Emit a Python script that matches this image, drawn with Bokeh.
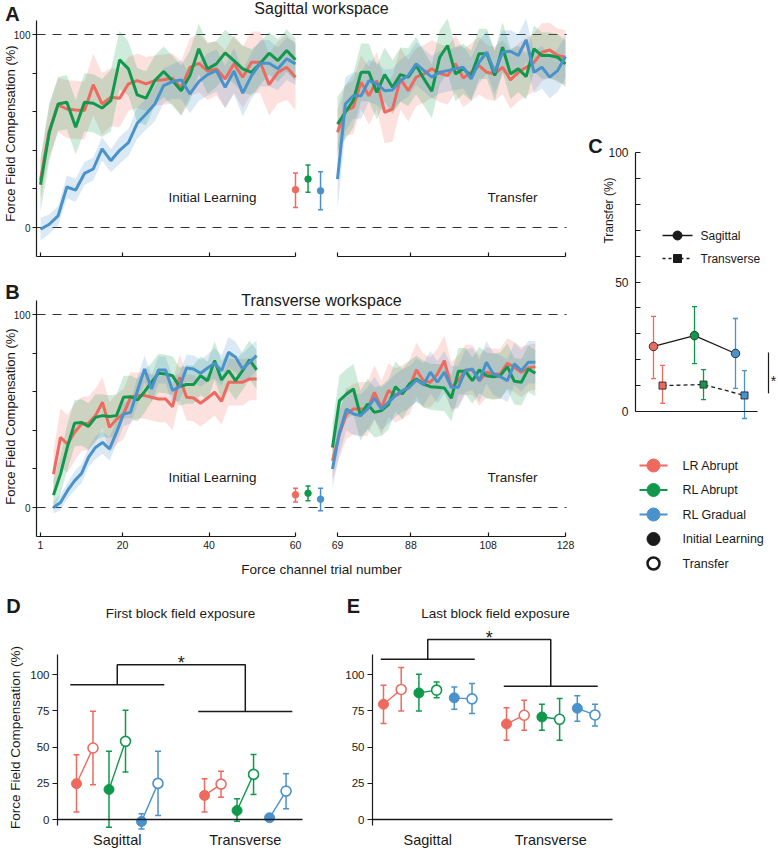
import numpy as np
from bokeh.plotting import figure
from bokeh.models import Range1d, LinearAxis, FixedTicker, Label
from bokeh.layouts import column, row
from bokeh.core.properties import value
from bokeh.embed import file_html
from bokeh.resources import INLINE

FONT = "Liberation Sans"
RED, GREEN, BLUE = "#EE6A5F", "#10994D", "#4A92CB"
INK = "#1a1a1a"

group_names = ["LR Abrupt", "RL Abrupt", "RL Gradual"]
group_colors = [RED, GREEN, BLUE]
phase_names = ["Initial Learning", "Transfer"]
workspace_names = ["Sagittal", "Transverse"]
ffc_label = "Force Field Compensation (%)"

# ---------------- Panel A : sagittal workspace ----------------
sag_init_trials = [float(t) for t in np.linspace(1, 60, 30)]
sag_tr_trials = [float(t) for t in np.linspace(69, 128, 30)]

sag_init_lr = [24.6, 50.2, 63.5, 61.4, 60.9, 60.6, 74.0, 64.0, 67.5, 67.0, 74.4, 76.1, 74.4, 76.1, 76.6,
               77.3, 72.3, 83.0, 85.1, 81.0, 82.2, 77.0, 84.8, 77.9, 85.6, 85.6, 74.0, 80.4, 83.0, 77.9]
sag_init_rla = [22.1, 49.3, 64.0, 64.9, 51.9, 64.9, 64.4, 61.9, 65.7, 86.9, 82.2, 68.7, 67.0, 76.1, 80.8,
                76.1, 70.9, 78.7, 92.6, 82.2, 84.8, 90.5, 86.5, 82.2, 80.4, 85.1, 90.3, 86.5, 91.7, 86.9]
sag_init_rlg = [-0.9, 1.7, 6.0, 21.0, 19.4, 28.0, 30.3, 40.7, 34.6, 40.0, 44.0, 54.0, 58.8, 64.0, 73.5,
                75.6, 76.5, 69.2, 75.6, 79.2, 81.3, 72.7, 81.0, 69.6, 78.7, 85.1, 85.1, 82.2, 87.4, 84.8]
sag_init_lr_sd = [10, 13, 14, 15, 15, 15, 16, 16, 15, 15, 14, 14, 14, 13, 13,
                  13, 14, 15, 15, 15, 14, 15, 15, 16, 16, 16, 16, 16, 17, 17]
sag_init_rla_sd = [14, 15, 14, 14, 14, 15, 15, 15, 16, 15, 14, 14, 14, 13, 13,
                   13, 13, 13, 13, 13, 12, 12, 12, 12, 12, 11, 11, 11, 11, 11]
sag_init_rlg_sd = [6, 5, 5, 6, 6, 6, 6, 6, 6, 7, 7, 8, 8, 9, 9,
                   9, 10, 10, 10, 11, 11, 11, 12, 12, 12, 12, 12, 11, 11, 11]

sag_tr_lr = [49.3, 60.6, 62.3, 75.3, 68.3, 76.1, 59.7, 61.4, 77.0, 70.9, 77.9, 79.6, 82.2, 79.9, 78.7,
             84.8, 77.5, 80.4, 83.9, 80.4, 79.6, 83.0, 76.5, 80.4, 83.0, 85.6, 90.8, 92.0, 89.1, 88.2]
sag_tr_rla = [53.6, 59.7, 65.7, 80.4, 80.4, 70.0, 79.2, 72.7, 79.2, 77.9, 83.9, 77.0, 70.6, 88.2, 94.3,
              79.6, 82.2, 78.7, 90.0, 90.0, 78.7, 93.4, 79.6, 82.2, 78.2, 92.6, 89.1, 89.1, 88.2, 84.8]
sag_tr_rlg = [25.1, 64.0, 68.3, 68.3, 76.1, 74.4, 70.9, 71.3, 76.1, 78.7, 84.8, 81.3, 77.9, 80.4, 81.3,
              82.2, 83.0, 77.0, 85.6, 90.8, 80.4, 90.8, 91.3, 89.1, 97.2, 80.4, 83.0, 77.9, 81.3, 88.6]
sag_tr_lr_sd = [12, 13, 14, 14, 15, 15, 16, 17, 16, 16, 15, 15, 15, 15, 15,
                15, 15, 15, 15, 14, 14, 14, 15, 15, 15, 15, 15, 14, 14, 14]
sag_tr_rla_sd = [14, 14, 14, 15, 15, 14, 14, 14, 14, 15, 15, 14, 14, 14, 14,
                 14, 13, 13, 13, 13, 13, 13, 13, 12, 12, 12, 12, 12, 12, 12]
sag_tr_rlg_sd = [16, 14, 12, 12, 11, 11, 11, 11, 11, 11, 11, 11, 11, 11, 11,
                 11, 11, 11, 11, 11, 11, 11, 11, 11, 11, 11, 11, 11, 11, 11]

sag_gap_mean = [19.6, 25.1, 19.0]
sag_gap_lo = [10.4, 18.2, 9.2]
sag_gap_hi = [28.2, 32.4, 28.9]

# ---------------- Panel B : transverse workspace ----------------
trv_init_trials = [float(t) for t in np.linspace(4, 51, 30)]
trv_tr_trials = [float(t) for t in np.linspace(67.7, 120.2, 30)]

trv_init_lr = [17.3, 36.3, 32.9, 38.9, 43.3, 43.6, 47.6, 54.5, 41.5, 45.8, 48.4, 57.1, 58.0, 58.0, 57.1,
               56.2, 56.2, 52.2, 67.5, 57.1, 56.7, 54.0, 56.7, 59.7, 55.0, 64.9, 64.9, 64.9, 66.6, 66.6]
trv_init_rla = [6.4, 17.3, 31.5, 43.6, 44.1, 42.0, 46.7, 47.6, 47.1, 47.6, 57.1, 57.4, 55.7, 60.0, 64.9,
                69.6, 69.2, 68.3, 62.6, 63.7, 63.7, 68.3, 65.7, 76.1, 66.1, 70.9, 65.7, 70.9, 76.5, 71.3]
trv_init_rlg = [0.0, 2.6, 8.7, 13.8, 17.6, 26.0, 31.1, 33.7, 30.3, 38.9, 48.4, 49.3, 60.6, 71.8, 61.4,
                71.3, 71.3, 60.6, 62.6, 72.3, 71.8, 69.6, 72.3, 74.7, 70.9, 80.4, 77.9, 71.8, 75.3, 78.7]
trv_init_lr_sd = [12, 15, 15, 15, 14, 14, 14, 13, 13, 13, 13, 13, 12, 12, 12,
                  12, 12, 12, 12, 12, 12, 12, 12, 12, 12, 12, 12, 12, 11, 11]
trv_init_rla_sd = [8, 10, 12, 12, 12, 12, 12, 11, 11, 11, 11, 11, 11, 11, 10,
                   10, 10, 10, 10, 10, 10, 10, 10, 10, 10, 10, 10, 10, 10, 10]
trv_init_rlg_sd = [3, 4, 4, 5, 5, 5, 6, 6, 6, 6, 6, 6, 7, 7, 7,
                   7, 7, 7, 7, 7, 7, 7, 7, 8, 8, 8, 8, 8, 8, 8]

trv_tr_lr = [24.2, 38.1, 48.4, 51.0, 51.0, 51.0, 59.7, 51.6, 60.6, 58.0, 59.7, 62.3, 71.3, 65.7, 64.9,
             69.2, 76.1, 62.3, 65.7, 71.3, 71.3, 65.7, 70.1, 69.2, 69.2, 74.7, 72.7, 70.1, 72.3, 73.0]
trv_tr_rla = [31.1, 55.4, 58.8, 61.4, 47.6, 53.6, 49.3, 50.2, 53.3, 62.6, 58.8, 64.0, 66.6, 64.0, 62.6,
              62.3, 61.9, 56.7, 70.6, 70.6, 65.7, 71.3, 68.3, 67.8, 68.3, 73.0, 65.4, 64.9, 71.8, 69.6]
trv_tr_rlg = [19.9, 38.9, 51.0, 48.4, 47.6, 51.0, 56.7, 51.0, 54.5, 58.0, 60.6, 62.3, 66.1, 63.7, 70.1,
              64.9, 70.1, 62.3, 62.3, 70.9, 71.8, 65.7, 75.3, 69.2, 67.8, 65.7, 74.4, 70.9, 75.3, 75.3]
trv_tr_lr_sd = [10, 12, 13, 13, 14, 14, 14, 14, 14, 14, 14, 14, 14, 14, 13,
                13, 13, 13, 13, 13, 13, 13, 13, 13, 13, 13, 13, 13, 12, 12]
trv_tr_rla_sd = [12, 13, 13, 13, 13, 13, 13, 13, 13, 13, 13, 12, 12, 12, 12,
                 12, 12, 12, 12, 12, 12, 12, 12, 12, 12, 12, 12, 12, 12, 12]
trv_tr_rlg_sd = [10, 11, 11, 11, 11, 11, 11, 11, 11, 11, 11, 11, 11, 11, 11,
                 11, 11, 11, 11, 11, 11, 11, 11, 11, 11, 11, 11, 11, 11, 11]

trv_gap_mean = [6.6, 7.4, 4.3]
trv_gap_lo = [2.9, 3.5, -1.7]
trv_gap_hi = [10.0, 11.2, 10.0]

# ---------------- Panel C : transfer (%) ----------------
transfer_sag = [25.1, 29.3, 22.4]
transfer_sag_lo = [12.7, 18.5, 8.9]
transfer_sag_hi = [36.7, 40.5, 35.9]
transfer_trv = [10.0, 10.4, 6.2]
transfer_trv_lo = [3.1, 4.6, -2.7]
transfer_trv_hi = [17.8, 16.2, 15.8]
transfer_sig = [7.0, 22.8]

# ---------------- Panel D : first block ----------------
first_sag_init = [24.7, 20.7, -1.4]
first_sag_init_lo = [5.1, -5.3, -6.5]
first_sag_init_hi = [44.7, 47.0, 3.9]
first_sag_tr = [49.3, 53.9, 24.9]
first_sag_tr_lo = [24.0, 32.7, 2.8]
first_sag_tr_hi = [74.7, 75.3, 47.0]
first_trv_init = [16.6, 6.2, 1.2]
first_trv_init_lo = [5.1, -1.2, -0.7]
first_trv_init_hi = [28.1, 14.3, 2.8]
first_trv_tr = [24.4, 31.1, 19.6]
first_trv_tr_lo = [15.4, 17.3, 7.4]
first_trv_tr_hi = [33.2, 44.9, 31.6]
first_bracket = [93.0, 74.4, 106.7]

# ---------------- Panel E : last block ----------------
last_sag_init = [79.5, 87.3, 83.9]
last_sag_init_lo = [66.2, 74.9, 76.1]
last_sag_init_hi = [92.6, 100.2, 91.4]
last_sag_tr = [89.7, 89.2, 83.2]
last_sag_tr_lo = [74.9, 83.9, 73.1]
last_sag_tr_hi = [104.8, 94.9, 93.8]
last_trv_init = [65.9, 70.7, 76.7]
last_trv_init_lo = [54.7, 61.5, 67.7]
last_trv_init_hi = [77.0, 79.5, 85.3]
last_trv_tr = [71.9, 69.1, 72.1]
last_trv_tr_lo = [61.5, 54.6, 64.5]
last_trv_tr_hi = [82.3, 83.4, 79.5]
last_bracket = [110.6, 91.9, 124.1]


# ---------------- helpers ----------------
def style_axis(ax, size):
    ax.axis_line_color = INK
    ax.axis_line_width = 1.2
    ax.major_tick_line_color = INK
    ax.minor_tick_line_color = INK
    ax.major_tick_line_width = 1.2
    ax.minor_tick_line_width = 1.2
    ax.major_label_text_font = FONT
    ax.major_label_text_font_size = size
    ax.major_label_text_color = INK
    ax.major_tick_in = ax.major_tick_out = 0
    ax.minor_tick_in = ax.minor_tick_out = 0


def base_fig(width, height, xr, yr):
    p = figure(width=width, height=height, x_range=xr, y_range=yr,
               x_axis_type=None, y_axis_type=None,
               output_backend="svg", toolbar_location=None, min_border=0)
    p.outline_line_color = None
    p.background_fill_color = "white"
    p.border_fill_color = "white"
    return p


def add_label(p, x, y, text, size, bold=False, align="center", baseline="middle", angle=0.0):
    p.add_layout(Label(x=x, y=y, text=text, text_font=FONT, text_font_size=size,
                       text_font_style="bold" if bold else "normal", text_align=align,
                       text_baseline=baseline, angle=angle, text_color=INK))


def add_text(p, x, y, text, size, align="center", baseline="middle", **kw):
    p.text(x=[x], y=[y], text=[text], text_font=value(FONT), text_font_size=size,
           text_align=align, text_baseline=baseline, text_color=INK, **kw)


def errbars(p, xs, lo, hi, color, cap, lw=1.5, **kw):
    p.segment(x0=xs, y0=lo, x1=xs, y1=hi, line_color=color, line_width=lw, **kw)
    p.scatter(x=xs, y=lo, marker="dash", size=cap, line_color=color, line_width=lw, **kw)
    p.scatter(x=xs, y=hi, marker="dash", size=cap, line_color=color, line_width=lw, **kw)


# ---------------- Panels A / B ----------------
def workspace_panel(letter, title, title_py, letter_py, ylab_py, init_x, init_m, init_sd,
                    tr_x, tr_m, tr_sd, gap_m, gap_lo, gap_hi, height, with_labels):
    W = 585
    ppl, ppr, ppy = 4.322, 3.864, 1.93
    xl0 = 1 - 40 / ppl
    xr0 = 69 - 337 / ppr
    zero_py = 227

    def lx(px):
        return xl0 + px / ppl

    def vy(py):
        return (zero_py - py) / ppy

    p = base_fig(W, height, Range1d(lx(0), lx(W)), Range1d(vy(height), vy(0)))
    p.extra_x_ranges = {"tr": Range1d(xr0, xr0 + W / ppr)}
    ylo, yhi = -15.0, 107.3
    axis_x = lx(36)

    # dashed reference levels
    p.segment(x0=[axis_x, axis_x], x1=[lx(566), lx(566)], y0=[0, 100], y1=[0, 100],
              line_color="#333333", line_width=1, line_dash="9 7")

    for m, sd, c in zip(init_m, init_sd, group_colors):
        p.varea(x=init_x, y1=[a - b for a, b in zip(m, sd)], y2=[a + b for a, b in zip(m, sd)],
                fill_color=c, fill_alpha=0.2)
    for m, sd, c in zip(tr_m, tr_sd, group_colors):
        p.varea(x=tr_x, y1=[a - b for a, b in zip(m, sd)], y2=[a + b for a, b in zip(m, sd)],
                fill_color=c, fill_alpha=0.2, x_range_name="tr")
    for m, c in zip(init_m, group_colors):
        p.line(x=init_x, y=m, line_color=c, line_width=3)
    for m, c in zip(tr_m, group_colors):
        p.line(x=tr_x, y=m, line_color=c, line_width=3, x_range_name="tr")

    for i, c in enumerate(group_colors):
        gx = [60 + 2.9 * i]
        errbars(p, gx, [gap_lo[i]], [gap_hi[i]], c, 5)
        p.scatter(x=gx, y=[gap_m[i]], marker="circle", size=6.5, fill_color=c, line_color=c)

    ya = LinearAxis(fixed_location=axis_x, bounds=(ylo, yhi),
                    ticker=FixedTicker(ticks=[0, 100], minor_ticks=[20, 40, 60, 80]))
    style_axis(ya, "10px")
    ya.major_tick_out = 4
    ya.minor_tick_out = 4
    ya.major_label_standoff = 2
    p.add_layout(ya, "left")

    if with_labels:
        t1 = FixedTicker(ticks=[1, 20, 40, 60])
        t2 = FixedTicker(ticks=[69, 88, 108, 128])
    else:
        t1 = FixedTicker(ticks=[], minor_ticks=[1, 20, 40, 60])
        t2 = FixedTicker(ticks=[], minor_ticks=[69, 88, 108, 128])
    xa1 = LinearAxis(ticker=t1, bounds=(axis_x, 60), fixed_location=ylo)
    xa2 = LinearAxis(x_range_name="tr", ticker=t2, bounds=(69, 128), fixed_location=ylo)
    for ax in (xa1, xa2):
        style_axis(ax, "10.5px")
        ax.major_tick_in = 4
        ax.minor_tick_in = 4
        ax.major_label_standoff = 5
        p.add_layout(ax, "below")

    add_text(p, lx(212), vy(197), phase_names[0], "13.5px")
    add_text(p, xr0 + 512 / ppr, vy(197), phase_names[1], "13.5px", x_range_name="tr")

    add_label(p, lx(321), vy(title_py), title, "16px")
    add_label(p, lx(12), vy(letter_py), letter, "20px", bold=True)
    add_label(p, lx(10), vy(ylab_py), ffc_label, "13px", angle=np.pi / 2)
    if with_labels:
        add_label(p, lx(321), vy(289), "Force channel trial number", "13.5px")
    return p


pa = workspace_panel("A", "Sagittal workspace", 8, 13, 133, sag_init_trials,
                     [sag_init_lr, sag_init_rla, sag_init_rlg],
                     [sag_init_lr_sd, sag_init_rla_sd, sag_init_rlg_sd],
                     sag_tr_trials, [sag_tr_lr, sag_tr_rla, sag_tr_rlg],
                     [sag_tr_lr_sd, sag_tr_rla_sd, sag_tr_rlg_sd],
                     sag_gap_mean, sag_gap_lo, sag_gap_hi, 280, False)
pb = workspace_panel("B", "Transverse workspace", 20, 11.5, 136, trv_init_trials,
                     [trv_init_lr, trv_init_rla, trv_init_rlg],
                     [trv_init_lr_sd, trv_init_rla_sd, trv_init_rlg_sd],
                     trv_tr_trials, [trv_tr_lr, trv_tr_rla, trv_tr_rlg],
                     [trv_tr_lr_sd, trv_tr_rla_sd, trv_tr_rlg_sd],
                     trv_gap_mean, trv_gap_lo, trv_gap_hi, 298, True)

# ---------------- Panel C (+ group legend) ----------------
Wc, Hc = 193, 578
ppc, ppyc = 41.0, 2.59
c_left = 653 - 585          # canvas px of group 1


def cx(px):
    return 1 + (px - c_left) / ppc


def cy(py):
    return (411 - py) / ppyc


pc = base_fig(Wc, Hc, Range1d(cx(0), cx(Wc)), Range1d(cy(Hc), cy(0)))
c_axis_x = cx(635 - 585)
yc = LinearAxis(fixed_location=c_axis_x, bounds=(0, 100),
                ticker=FixedTicker(ticks=[0, 50, 100], minor_ticks=[10, 20, 30, 40, 60, 70, 80, 90]))
style_axis(yc, "12px")
yc.major_tick_in = 5
yc.minor_tick_in = 5
yc.major_label_standoff = 7
pc.add_layout(yc, "left")
xc = LinearAxis(fixed_location=0, bounds=(c_axis_x, cx(757 - 585)), ticker=FixedTicker(ticks=[]))
style_axis(xc, "12px")
pc.add_layout(xc, "below")

gx_sag = [1.0 + i for i in range(3)]
gx_trv = [1.22 + i for i in range(3)]
pc.line(x=gx_sag, y=transfer_sag, line_color=INK, line_width=1.3)
pc.line(x=gx_trv, y=transfer_trv, line_color=INK, line_width=1.3, line_dash="4 3")
for i, c in enumerate(group_colors):
    errbars(pc, [gx_sag[i]], [transfer_sag_lo[i]], [transfer_sag_hi[i]], c, 5, lw=1.3)
    errbars(pc, [gx_trv[i]], [transfer_trv_lo[i]], [transfer_trv_hi[i]], c, 5, lw=1.3)
    pc.scatter(x=[gx_sag[i]], y=[transfer_sag[i]], marker="circle", size=8.5,
               fill_color=c, line_color="#333333", line_width=1)
    pc.scatter(x=[gx_trv[i]], y=[transfer_trv[i]], marker="square", size=7,
               fill_color=c, line_color="#333333", line_width=1)
sig_x = cx(768 - 585)
pc.segment(x0=[sig_x], y0=[transfer_sig[0]], x1=[sig_x], y1=[transfer_sig[1]],
           line_color=INK, line_width=1.2)
add_text(pc, cx(773 - 585), (transfer_sig[0] + transfer_sig[1]) / 2 - 3.2, "*", "14px",
         baseline="alphabetic")

# workspace key (Sagittal / Transverse)
key_rows = [cy(235), cy(258)]
pc.line(x=[cx(662 - 585), cx(692 - 585)], y=[key_rows[0]] * 2, line_color=INK, line_width=1.5)
pc.scatter(x=[cx(677 - 585)], y=[key_rows[0]], marker="circle", size=9, fill_color=INK, line_color=INK)
pc.line(x=[cx(662 - 585), cx(692 - 585)], y=[key_rows[1]] * 2, line_color=INK, line_width=1.5,
        line_dash="3 3")
pc.scatter(x=[cx(677 - 585)], y=[key_rows[1]], marker="square", size=8, fill_color=INK, line_color=INK)
for r, name in zip(key_rows, workspace_names):
    add_text(pc, cx(700 - 585), r, name, "12px", align="left")

# group / phase key
row_y = [cy(465 + 24.5 * k) for k in range(5)]
kx, kx0, kx1, tx = cx(653 - 585), cx(639 - 585), cx(667 - 585), cx(682 - 585)
for k, (name, c) in enumerate(zip(group_names, group_colors)):
    pc.line(x=[kx0, kx1], y=[row_y[k]] * 2, line_color=c, line_width=2)
    pc.scatter(x=[kx], y=[row_y[k]], marker="circle", size=13, fill_color=c, line_color=c)
    add_text(pc, tx, row_y[k], name, "12.5px", align="left")
pc.scatter(x=[kx], y=[row_y[3]], marker="circle", size=13, fill_color=INK, line_color=INK)
add_text(pc, tx, row_y[3], phase_names[0], "12.5px", align="left")
pc.scatter(x=[kx], y=[row_y[4]], marker="circle", size=12, fill_color="white", line_color=INK,
           line_width=2.5)
add_text(pc, tx, row_y[4], phase_names[1], "12.5px", align="left")

add_label(pc, cx(595 - 585), cy(145), "C", "20px", bold=True)
add_label(pc, cx(608 - 585), cy(210), "Transfer (%)", "12px", angle=np.pi / 2)


# ---------------- Panels D / E ----------------
def block_panel(letter, title, means, los, his, bracket, star_y, x_off, width,
                upx, first_px, axis_px, end_px, group_gap, pair_gap, title_px, letter_px, show_ylabel):
    H = 272
    ppy = 1.45

    def bx(px):
        return (px - x_off - first_px) / upx

    def vy(py):
        return (819 - 578 - py) / ppy

    p = base_fig(width, H, Range1d(bx(x_off), bx(x_off + width)), Range1d(vy(H), vy(0)))
    axis_x = bx(axis_px)
    ya = LinearAxis(fixed_location=axis_x, bounds=(-4, 114),
                    ticker=FixedTicker(ticks=[0, 25, 50, 75, 100]))
    style_axis(ya, "11.5px")
    ya.major_tick_out = 5
    ya.major_label_standoff = 3
    p.add_layout(ya, "left")

    centers = [c * group_gap + (2 * pair_gap + 1) / 2 for c in range(2)]
    xa = LinearAxis(fixed_location=0, bounds=(axis_x, bx(end_px)),
                    ticker=FixedTicker(ticks=centers),
                    major_label_overrides={centers[0]: workspace_names[0],
                                           centers[1]: workspace_names[1]})
    style_axis(xa, "14.5px")
    xa.axis_line_width = 1.4
    xa.major_label_standoff = 12
    p.add_layout(xa, "below")

    for c in range(2):
        for g, col in enumerate(group_colors):
            xi = c * group_gap + g * pair_gap
            xt = xi + 1
            mi, mt = means[c][0][g], means[c][1][g]
            p.line(x=[xi, xt], y=[mi, mt], line_color=col, line_width=1.4)
            errbars(p, [xi], [los[c][0][g]], [his[c][0][g]], col, 6)
            errbars(p, [xt], [los[c][1][g]], [his[c][1][g]], col, 6)
            p.scatter(x=[xi], y=[mi], marker="circle", size=10, fill_color=col, line_color=col)
            p.scatter(x=[xt], y=[mt], marker="circle", size=10, fill_color="white",
                      line_color=col, line_width=1.6)

    half = 47.0 / upx
    cs, ct = centers
    p.multi_line(xs=[[cs - half, cs + half], [cs, cs, ct, ct], [ct - half, ct + half]],
                 ys=[[bracket[0], bracket[0]], [bracket[0], bracket[2], bracket[2], bracket[1]],
                     [bracket[1], bracket[1]]], line_color=INK, line_width=1.5)
    add_text(p, (cs + ct) / 2, star_y, "*", "18px", baseline="alphabetic")

    add_label(p, bx(title_px), vy(613 - 578), title, "13.5px")
    add_label(p, bx(letter_px), vy(605 - 578), letter, "20px", bold=True)
    if show_ylabel:
        add_label(p, bx(x_off + 15), vy(737 - 578), ffc_label, "13.5px", angle=np.pi / 2)
    return p


pd_ = block_panel("D", "First block field exposure",
                  [[first_sag_init, first_sag_tr], [first_trv_init, first_trv_tr]],
                  [[first_sag_init_lo, first_sag_tr_lo], [first_trv_init_lo, first_trv_tr_lo]],
                  [[first_sag_init_hi, first_sag_tr_hi], [first_trv_init_hi, first_trv_tr_hi]],
                  first_bracket, 108.0, 0, 336, 16.5, 76, 57, 302, 7.76, 1.97, 180, 13, True)
pe = block_panel("E", "Last block field exposure",
                 [[last_sag_init, last_sag_tr], [last_trv_init, last_trv_tr]],
                 [[last_sag_init_lo, last_sag_tr_lo], [last_trv_init_lo, last_trv_tr_lo]],
                 [[last_sag_init_hi, last_sag_tr_hi], [last_trv_init_hi, last_trv_tr_hi]],
                 last_bracket, 125.5, 336, 442, 17.7, 383 - 336, 372, 612, 6.95, 2.0, 495, 353, False)

layout = column(row(column(pa, pb), pc), row(pd_, pe))
open("out.html", "w").write(file_html(layout, INLINE))
